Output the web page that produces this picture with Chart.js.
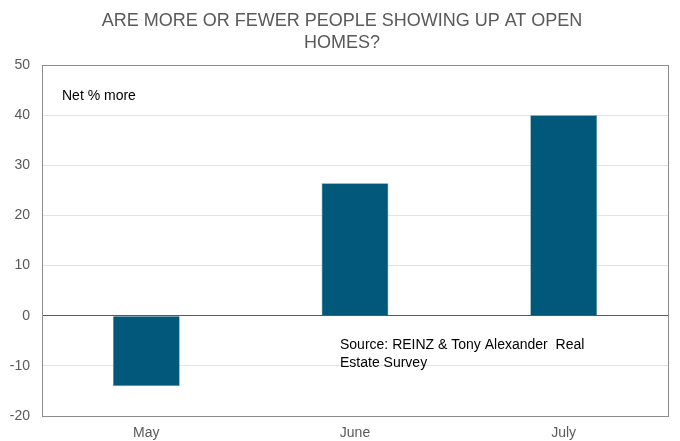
<!DOCTYPE html>
<html>
<head>
<meta charset="utf-8">
<script src="https://cdn.jsdelivr.net/npm/chart.js@4.4.1/dist/chart.umd.min.js"></script>
<style>
  html, body { margin: 0; padding: 0; background: #fff; }
  #wrap { width: 680px; height: 441px; }
</style>
</head>
<body>
<div id="wrap"><canvas id="chart"></canvas></div>
<script>
// data
const months = ['May', 'June', 'July'];
const netMore = [-14, 26.4, 40];
const yTicks = [-20, -10, 0, 10, 20, 30, 40, 50];

const titleLines = ['ARE MORE OR FEWER PEOPLE SHOWING UP AT OPEN', 'HOMES?'];
const noteLabel = 'Net % more';
const sourceLines = ['Source: REINZ & Tony Alexander  Real', 'Estate Survey'];

const fontFam = '"Liberation Sans", Arial, sans-serif';

// title, box round the plot + the two notes inside it
const extras = {
  id: 'extras',
  afterDraw(chart) {
    const { ctx, chartArea: a, scales } = chart;
    ctx.save();
    ctx.strokeStyle = '#8c8c8c';
    ctx.lineWidth = 1;
    ctx.strokeRect(Math.round(a.left) + 0.5, Math.round(a.top) + 0.5,
      Math.round(a.right - a.left), Math.round(a.bottom - a.top));

    // title is centred a bit right of the canvas middle in the original
    ctx.fillStyle = '#595959';
    ctx.font = '18px ' + fontFam;
    ctx.textAlign = 'center';
    ctx.textBaseline = 'middle';
    ctx.fillText(titleLines[0], 342, 21);
    ctx.fillText(titleLines[1], 342, 43);

    ctx.fillStyle = '#000';
    ctx.font = '14px ' + fontFam;
    ctx.textAlign = 'left';
    ctx.fillText(noteLabel, a.left + 20, scales.y.getPixelForValue(43.8));

    const sx = scales.x.getPixelForValue(1) - 15;
    ctx.fillText(sourceLines[0], sx, scales.y.getPixelForValue(-5.8));
    ctx.fillText(sourceLines[1], sx, scales.y.getPixelForValue(-9.4));
    ctx.restore();
  }
};

new Chart(document.getElementById('chart'), {
  type: 'bar',
  data: {
    labels: months,
    datasets: [{
      data: netMore,
      backgroundColor: '#02587a',
      borderColor: '#4f8aa1',
      borderWidth: 0.6,
      categoryPercentage: 1,
      barPercentage: 0.32
    }]
  },
  options: {
    responsive: true,
    maintainAspectRatio: false,
    animation: false,
    layout: { padding: { left: 0, right: 12, top: 65, bottom: 0 } },
    plugins: {
      legend: { display: false },
      tooltip: { enabled: false },
      title: { display: false }
    },
    scales: {
      x: {
        afterFit(axis) { axis.height = 25; },
        grid: { display: false, drawTicks: false },
        border: { display: false },
        ticks: {
          color: '#595959',
          font: { family: fontFam, size: 14 },
          padding: 9
        }
      },
      y: {
        min: -20,
        max: 50,
        afterFit(axis) { axis.width = 42; },
        afterBuildTicks(axis) {
          axis.ticks = yTicks.map(v => ({ value: v }));
        },
        grid: {
          drawTicks: false,
          color: c => c.tick.value === 0 ? '#595959' : '#e3e3e3',
          lineWidth: 1
        },
        border: { display: false },
        ticks: {
          color: '#595959',
          font: { family: fontFam, size: 14 },
          padding: 12
        }
      }
    }
  },
  plugins: [extras]
});
</script>
</body>
</html>
